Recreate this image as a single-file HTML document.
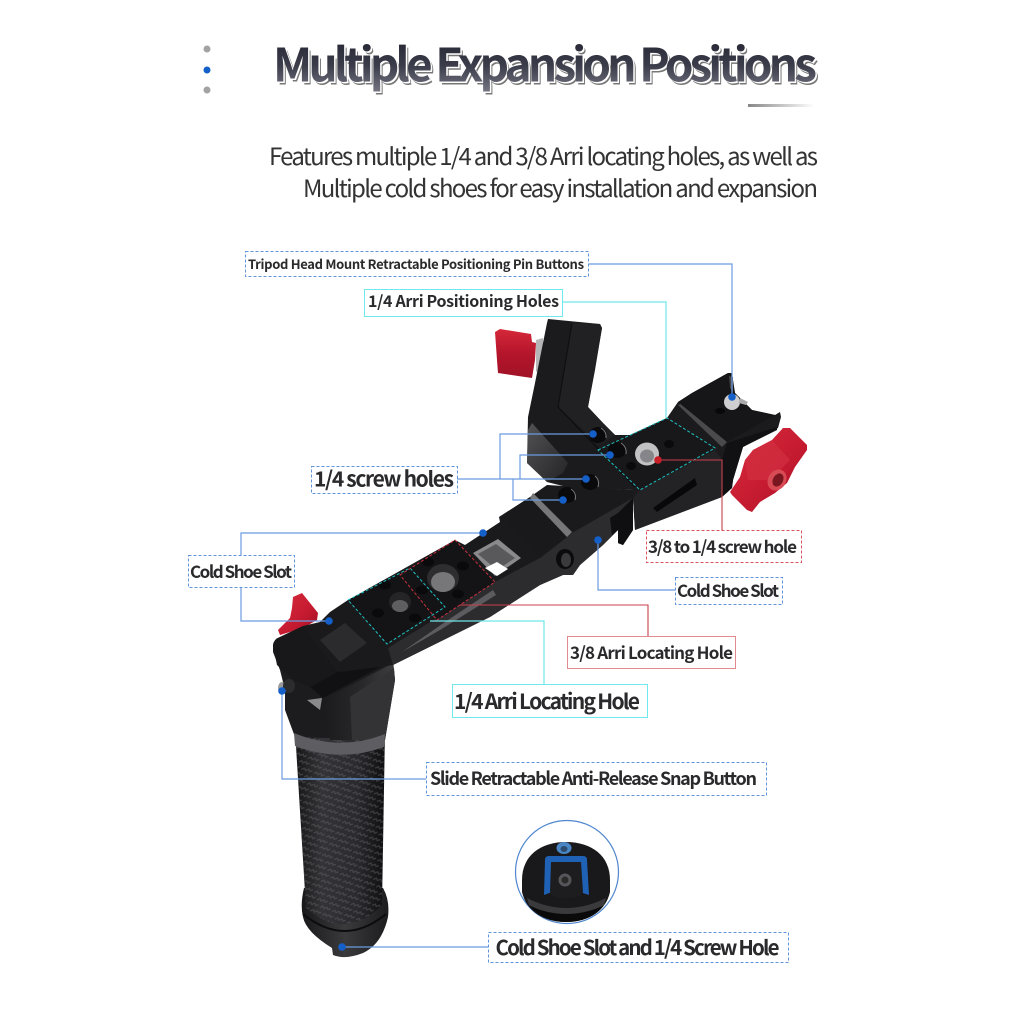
<!DOCTYPE html>
<html><head><meta charset="utf-8"><style>
html,body{margin:0;padding:0;background:#fff}
svg{display:block}
text{font-family:"Liberation Sans","Noto Sans CJK SC",sans-serif}
.c{font-family:"Noto Sans CJK SC","Liberation Sans",sans-serif;fill:#2a2a2c;font-weight:700}
.s{font-family:"Noto Sans CJK SC","Liberation Sans",sans-serif;fill:#333;font-weight:400}
.t{font-family:"Noto Sans CJK SC","Liberation Sans",sans-serif;font-weight:700}
.b{fill:none;stroke:#5f93dc;stroke-width:1;stroke-dasharray:3 2}
.y{fill:none;stroke:#6fe8ee;stroke-width:1}
.r{fill:none;stroke:#d8545c;stroke-width:1;stroke-dasharray:3 2}
.lb{fill:none;stroke:#6a9be0;stroke-width:1.2}
.ly{fill:none;stroke:#70e6ea;stroke-width:1.2}
.lr{fill:none;stroke:#c8404a;stroke-width:1.1}
.d{fill:#1560c8}
</style></head><body>
<svg width="1024" height="1024" viewBox="0 0 1024 1024" xmlns="http://www.w3.org/2000/svg">
<defs>
<linearGradient id="tg" x1="0" y1="0" x2="0" y2="1"><stop offset="0" stop-color="#1e1f2d"/><stop offset=".55" stop-color="#3c3d4b"/><stop offset="1" stop-color="#7d7e8a"/></linearGradient>
<linearGradient id="bar" x1="0" y1="0" x2="1" y2="0"><stop offset="0" stop-color="#888"/><stop offset="1" stop-color="#fff"/></linearGradient>
<linearGradient id="hg" x1="0" y1="0" x2="1" y2="0"><stop offset="0" stop-color="#161618"/><stop offset=".3" stop-color="#343438"/><stop offset=".7" stop-color="#2a2a2e"/><stop offset="1" stop-color="#0e0e10"/></linearGradient>
<linearGradient id="fl" x1="0" y1="0" x2="1" y2="0"><stop offset="0" stop-color="#19191b"/><stop offset=".5" stop-color="#3a3a3d"/><stop offset="1" stop-color="#1c1c1e"/></linearGradient>
<linearGradient id="hd" x1="0" y1="0" x2="1" y2="0"><stop offset="0" stop-color="#1a1a1c"/><stop offset=".55" stop-color="#28282a"/><stop offset="1" stop-color="#3e3e41"/></linearGradient>
<linearGradient id="rd" x1="0" y1="0" x2="1" y2="1"><stop offset="0" stop-color="#d92a3c"/><stop offset=".6" stop-color="#c41a30"/><stop offset="1" stop-color="#9a1024"/></linearGradient>
<linearGradient id="rv" x1="0" y1="0" x2="0" y2="1"><stop offset="0" stop-color="#d6283a"/><stop offset=".5" stop-color="#b5152b"/><stop offset="1" stop-color="#a01226"/></linearGradient>
<linearGradient id="sl" x1="0" y1="0" x2="1" y2="1"><stop offset="0" stop-color="#77777a"/><stop offset="1" stop-color="#2a2a2c"/></linearGradient>
<pattern id="cf" width="10" height="8" patternUnits="userSpaceOnUse" patternTransform="rotate(-20)">
<path d="M0 2h3.5v2.5h3.5v2.5h3" fill="none" stroke="#626266" stroke-width="1.2" opacity=".5"/>
</pattern>
</defs>

<!-- header -->
<circle cx="207" cy="49" r="3.5" fill="#a3a3a3"/><circle cx="207" cy="70" r="3.5" fill="#1560c8"/><circle cx="207" cy="90" r="3.5" fill="#a3a3a3"/>
<text class="t" x="275.5" y="84.5" font-size="46" textLength="544" lengthAdjust="spacing" fill="#777">Multiple Expansion Positions</text>
<text class="t" x="274.5" y="83" font-size="46" textLength="544" lengthAdjust="spacing" fill="#fff">Multiple Expansion Positions</text>
<text class="t" x="273" y="81.5" font-size="46" textLength="544" lengthAdjust="spacing" fill="url(#tg)">Multiple Expansion Positions</text>
<rect x="748" y="104" width="66" height="3" fill="url(#bar)"/>
<text class="s" x="269" y="165" font-size="24" textLength="549" lengthAdjust="spacing">Features multiple 1/4 and 3/8 Arri locating holes, as well as</text>
<text class="s" x="303" y="197" font-size="24" textLength="515" lengthAdjust="spacing">Multiple cold shoes for easy installation and expansion</text>

<!-- flange -->
<path d="M304 888 Q300 905 303 917 Q306 932 332 948 L333 955 Q345 960 363 953 Q382 944 388 917 Q390 900 383 888Z" fill="url(#fl)"/>
<!-- handle -->
<path d="M295 730 L385 730 L382 905 Q345 942 306 908Z" fill="url(#hg)"/>
<path d="M295 730 L385 730 L382 905 Q345 942 306 908Z" fill="url(#cf)"/>
<path d="M303 914 Q345 948 386 914" fill="none" stroke="#0c0c0e" stroke-width="2"/>

<!-- small red knob -->
<path d="M293 597 L302 593 L318 613 L317 620 L303 628 L280 635 L278 630 L290 618 L292 608Z" fill="url(#rd)"/>

<!-- head -->
<path d="M273 645 Q274 639 280 637 L303 626 L393 660 L395 680 L385 740 L295 737 L285 710 L285 690 L280 670 L273 652Z" fill="#1c1c1e"/>
<path d="M323 700 L393 663 L395 680 L385 740 L330 740 L320 715Z" fill="url(#hd)"/>
<path d="M350 697 L394 668 L395 680 L385 740 L352 740Z" fill="#333336"/>
<path d="M294 733 Q340 752 385 734 L384 747 Q340 763 295 746Z" fill="#5e5e62"/>
<path d="M273 645 Q274 639 280 637 L303 626 L338 672 L313 688 L293 680 L277 665Z" fill="#18181a"/>
<path d="M338 672 L388 650 L393 660 L323 698 L310 687Z" fill="#111113"/>
<path d="M307 700 L322 698 L320 710Z" fill="#8a8a8c"/>
<ellipse cx="282" cy="688" rx="4" ry="6" fill="#9a9a9c"/><ellipse cx="289" cy="686" rx="6" ry="7" fill="#2c2c2e"/>

<!-- arm -->
<path d="M303 626 L320 622 L330 612 L348 600 L455 540 L465 545 L500 522 L499 517 L530 497 L547 485 L633 490 L633 530 L623 545 L618 543 L618 530 L603 545 L580 565 L573 575 L563 575 L540 585 L490 617 L393 665 L340 672Z" fill="#1a1a1c"/>
<!-- side face -->
<path d="M388 648 L453 608 L493 583 L540 558 L572 533 L633 498 L633 530 L623 545 L618 543 L618 530 L603 545 L580 565 L573 575 L563 575 L540 585 L490 617 L393 665Z" fill="#2c2c2f"/>
<path d="M402 652 L445 622 L493 590 L496 595 L440 630Z" fill="#5c5c60"/>
<path d="M610 518 L618 513 L633 498 L633 530 L623 545 L618 543 L618 530 L612 535Z" fill="#0f0f11"/>
<path d="M320 640 L345 623 L367 643 L340 662Z" fill="#2b2b2e"/>
<path d="M348 600 L410 568 L445 607 L387 644Z" fill="#141416"/>
<path d="M400 575 L455 540 L495 582 L437 620Z" fill="#141416"/>
<path d="M473 553 L498 539 L521 558 L495 576Z" fill="#8a8a8c"/>
<path d="M478 554 L496 544 L515 558 L497 570Z" fill="#59595c"/>
<path d="M485 568 L497 562 L508 569 L497 576Z" fill="#fff"/>
<path d="M499 517 L530 498 L567 537 L540 558Z" fill="#19191b"/>
<path d="M530 498 L533 493 L572 532 L567 537Z" fill="#77777a"/>
<ellipse cx="565" cy="559" rx="9" ry="10" fill="#0b0b0d"/><ellipse cx="566" cy="560" rx="5" ry="7" fill="#3a3a3c"/>

<!-- knob behind U -->
<path d="M536 340 L543 338 L543 368 L536 372Z" fill="#b5b5b8"/>
<path d="M495 332 L500 329 L531 334 L532 342 L536 343 L535 360 L532 378 L498 373 L497 360Z" fill="url(#rv)"/>

<!-- U bracket -->
<path d="M548 319 L600 324 L602 328 L595 370 L588 407 L603 423 L615 435 L630 435 L667 418 L678 402 L692 393 L728 373 L732 373 L733 383 L735 393 L752 410 L775 415 L780 412 L781 417 L778 428 L743 447 L733 480 L732 488 L722 497 L635 530 L633 498 L633 490 L567 487 L547 482 L527 463 L528 417 L535 383 L547 323Z" fill="#1b1b1d"/>
<path d="M572 323 L600 324 L602 328 L588 407 L603 423 L615 435 L600 445 L558 407Z" fill="#212124"/>
<path d="M532 423 L568 463 L563 473 L547 482 L527 463 L528 430Z" fill="url(#sl)" opacity=".6"/>
<path d="M558 407 L635 487" fill="none" stroke="#0b0b0d" stroke-width="1"/>
<path d="M572 323 L558 407" fill="none" stroke="#0d0d0f" stroke-width="1"/>
<path d="M598 450 L667 418 L715 448 L640 490Z" fill="#18181a"/>
<path d="M640 490 L715 450 L722 460 L722 497 L635 530 L633 498Z" fill="#232326"/>
<path d="M653 508 L695 478 L697 485 L657 512Z" fill="#08080a"/>
<path d="M683 403 L727 442 L722 447 L678 405Z" fill="#4a4a4d"/>
<path d="M727 443 L777 427 L777 430 L743 447 L733 480 L732 488 L722 497 L722 460Z" fill="#111113"/>
<path d="M678 402 L692 393 L728 373 L732 373 L735 393 L752 410 L775 415 L727 442Z" fill="#161618"/>
<path d="M729 376 L733 377 L733 392 L730 388Z" fill="#47474a"/>

<!-- holes -->
<g fill="#0a0a0c">
<ellipse cx="598" cy="435" rx="9" ry="8"/><ellipse cx="617" cy="450" rx="9" ry="8"/><ellipse cx="590" cy="482" rx="9" ry="8"/><ellipse cx="567" cy="495" rx="9" ry="8"/>
<ellipse cx="669" cy="444" rx="5" ry="4"/><ellipse cx="631" cy="466" rx="5" ry="4"/>
<ellipse cx="385" cy="585" rx="6" ry="4.5"/><ellipse cx="378" cy="613" rx="6" ry="4.5"/><ellipse cx="415" cy="618" rx="6" ry="4.5"/><ellipse cx="422" cy="590" rx="6" ry="4.5"/><ellipse cx="428" cy="562" rx="6" ry="4.5"/><ellipse cx="463" cy="566" rx="6" ry="4.5"/><ellipse cx="458" cy="594" rx="6" ry="4.5"/>
</g>
<g fill="none" stroke="#7a7a7d" stroke-width="1">
<path d="M601 428 Q607 432 606 438M621 443 Q627 447 626 454M595 476 Q600 480 598 487M571 489 Q577 493 575 500"/>
</g>
<ellipse cx="400" cy="602" rx="11" ry="10" fill="#252527"/><ellipse cx="400" cy="606" rx="8" ry="6" fill="#5f5f62"/>
<ellipse cx="443" cy="578" rx="16" ry="14" fill="#2e2e30"/><ellipse cx="443" cy="582" rx="12" ry="10" fill="#77777a"/>
<ellipse cx="647" cy="454" rx="12" ry="11.5" fill="#c2c2c4"/><ellipse cx="647" cy="456" rx="7" ry="6.5" fill="#85858a"/>
<ellipse cx="732" cy="402" rx="8" ry="8" fill="#cfcfd2"/><ellipse cx="720" cy="411" rx="5" ry="3" fill="#08080a"/>
<path d="M740 398 L748 402 L746 405 L739 403Z" fill="#aaa"/>

<!-- right red knob -->
<path d="M730 492 L740 477 L745 460 L753 450 L772 440 L783 428 L790 428 L807 445 L807 450 L795 467 L787 483 L775 493 L760 502 L752 512 L747 510 L732 495Z" fill="url(#rd)"/>
<path d="M745 460 L753 450 L772 440 L790 460 L770 480 L748 480Z" fill="#d23242" opacity=".6"/>
<ellipse cx="777" cy="480" rx="9" ry="11" transform="rotate(30 777 480)" fill="#d84a54"/><ellipse cx="778" cy="480" rx="5" ry="7" transform="rotate(30 778 480)" fill="#7a1620"/>

<!-- plate outlines -->
<path d="M598 450 L667 418 L715 448 L640 490Z" fill="none" stroke="#1fc0c0" stroke-width="1" stroke-dasharray="3 2"/>
<path d="M348 600 L410 568 L445 607 L387 644Z" fill="none" stroke="#1fc0c0" stroke-width="1" stroke-dasharray="3 2"/>
<path d="M400 575 L455 540 L495 582 L437 620Z" fill="none" stroke="#c8303c" stroke-width="1" stroke-dasharray="3 2"/>

<!-- connectors -->
<path class="lb" d="M589 264H732V397"/>
<path class="ly" d="M562 302H666V418"/>
<path class="lb" d="M457 479H586M500 479V434H593M520 479V455H610M513 479V500H563"/>
<path class="lr" d="M658 460H722V530"/>
<path class="lb" d="M598 540V590H675"/>
<path class="lb" d="M241 555V533H483M241 587V621H329"/>
<path class="lr" d="M460 605H648V636"/>
<path class="ly" d="M430 621H544V684"/>
<path class="lb" d="M282 691V779H426"/>
<path class="lb" d="M342 947H488"/>
<g>
<circle class="d" cx="732" cy="397" r="3.8"/><circle class="d" cx="593" cy="434" r="3.8"/><circle class="d" cx="610" cy="455" r="3.8"/><circle class="d" cx="586" cy="479" r="3.8"/><circle class="d" cx="563" cy="500" r="3.8"/>
<circle class="d" cx="598" cy="540" r="3.8"/><circle class="d" cx="483" cy="533" r="3.8"/><circle class="d" cx="329" cy="621" r="3.8"/><circle class="d" cx="282" cy="691" r="3.8"/><circle class="d" cx="342" cy="947" r="3.8"/>
<circle cx="658" cy="460" r="3.8" fill="#c81e28"/>
</g>

<!-- inset -->
<circle cx="567" cy="872" r="51.5" fill="#fff" stroke="#4f86cf" stroke-width="1.2"/>
<path d="M522 880 C522 856 540 842 566 842 C592 842 610 856 610 880 L610 892 C606 910 590 922 566 922 C542 922 526 910 522 892Z" fill="#19191b"/>
<path d="M527 898 Q566 918 606 898 L604 905 Q566 925 529 905Z" fill="#3a3a3d"/>
<path d="M530 906 Q566 922 603 906 Q590 922 566 922 Q544 922 530 906Z" fill="#0a0a0a"/>
<path d="M545 860 Q545 856 549 856 L583 856 Q587 856 587 860 L589 895 L580 892 L552 892 L544 895Z" fill="#1f62b5"/>
<path d="M551 862 H581 L583 892 L580 896 Q566 900 552 896 L550 892Z" fill="#1d1d20"/>
<ellipse cx="564" cy="848" rx="7.5" ry="6" fill="#4a85c4"/><ellipse cx="564" cy="849" rx="3.5" ry="3" fill="#2c4d70"/>
<circle cx="565" cy="880" r="6.5" fill="#55555a"/><circle cx="565" cy="880" r="3.5" fill="#2a2a2a"/>

<!-- labels -->
<rect x="245.5" y="251.5" width="343" height="25" class="b"/>
<text class="c" x="248" y="269" font-size="13" textLength="336" lengthAdjust="spacing">Tripod Head Mount Retractable Positioning Pin Buttons</text>

<rect x="364.5" y="289.5" width="198" height="27" class="y"/>
<text class="c" x="368" y="307" font-size="16" textLength="191" lengthAdjust="spacing">1/4 Arri Positioning Holes</text>

<rect x="311.5" y="466.5" width="146" height="27" class="b"/>
<text class="c" x="314" y="486.5" font-size="21" textLength="140" lengthAdjust="spacing">1/4 screw holes</text>

<rect x="188.5" y="555.5" width="106" height="32" class="b"/>
<text class="c" x="190" y="578" font-size="17" textLength="102" lengthAdjust="spacing">Cold Shoe Slot</text>

<rect x="646.5" y="530.5" width="155" height="32" class="r"/>
<text class="c" x="648" y="553" font-size="17" textLength="149" lengthAdjust="spacing">3/8 to 1/4 screw hole</text>

<rect x="675.5" y="577.5" width="107" height="27" class="b"/>
<text class="c" x="677" y="597" font-size="17" textLength="102" lengthAdjust="spacing">Cold Shoe Slot</text>

<rect x="567.5" y="636.5" width="168" height="32" fill="none" stroke="#e08a90" stroke-width="1"/>
<text class="c" x="570" y="659" font-size="17" textLength="163" lengthAdjust="spacing">3/8 Arri Locating Hole</text>

<rect x="452.5" y="684.5" width="195" height="33" class="y"/>
<text class="c" x="454" y="709" font-size="21" textLength="186" lengthAdjust="spacing">1/4 Arri Locating Hole</text>

<rect x="426.5" y="762.5" width="340" height="33" class="b"/>
<text class="c" x="430" y="785" font-size="18" textLength="327" lengthAdjust="spacing">Slide Retractable Anti-Release Snap Button</text>

<rect x="488.5" y="932.5" width="300" height="30" class="b"/>
<text class="c" x="495.5" y="955" font-size="20.5" textLength="284" lengthAdjust="spacing">Cold Shoe Slot and 1/4 Screw Hole</text>
</svg>
</body></html>
